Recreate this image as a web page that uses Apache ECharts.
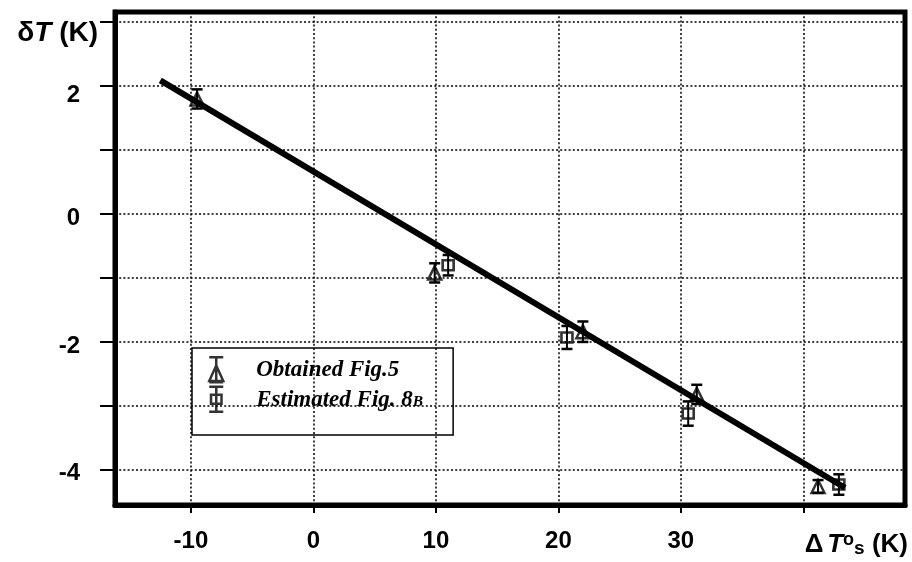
<!DOCTYPE html>
<html>
<head>
<meta charset="utf-8">
<script src="https://cdn.jsdelivr.net/npm/echarts@6/dist/echarts.min.js"></script>
<style>html,body{margin:0;padding:0;background:#fff}#c{width:912px;height:562px}</style>
</head>
<body>
<div id="c"></div>
<script>
// ---- data ----
const obtainedName = 'Obtained Fig.5';
const estimatedName = 'Estimated Fig. 8B';
const obtainedX = [-9.5, 9.9, 22.0, 31.3, 41.2];
const obtainedY = [1.80, -0.92, -1.84, -2.82, -4.26];
const obtainedErr = [0.15, 0.15, 0.16, 0.15, 0.10];
const estimatedX = [11.0, 20.7, 30.6, 42.9];
const estimatedY = [-0.80, -1.93, -3.12, -4.23];
const estimatedErr = [0.16, 0.18, 0.19, 0.16];
const fitX = [-12.5, 43.4];
const fitY = [2.09, -4.28];
const xTicks = [-10, 0, 10, 20, 30, 40];
const xLabels = [-10, 0, 10, 20, 30];
const yTicks = [-4, -3, -2, -1, 0, 1, 2, 3];
const yLabels = [-4, -2, 0, 2];

const SANS = 'Liberation Sans, Arial, Helvetica, sans-serif';
const SERIF = 'Liberation Serif, Times New Roman, serif';

function errSeries(name, xs, ys, es) {
  return {
    type: 'custom', name: name + ' err', silent: true, z: 3,
    data: xs.map((x, i) => [x, ys[i] - es[i], ys[i] + es[i]]),
    encode: { x: 0, y: [1, 2] },
    renderItem: function (params, api) {
      const lo = api.coord([api.value(0), api.value(1)]);
      const hi = api.coord([api.value(0), api.value(2)]);
      const w = 5.5;
      const st = { stroke: '#000', lineWidth: 2.5 };
      return { type: 'group', children: [
        { type: 'line', shape: { x1: lo[0], y1: lo[1], x2: hi[0], y2: hi[1] }, style: { stroke: '#000', lineWidth: 2 } },
        { type: 'line', shape: { x1: lo[0] - w, y1: lo[1], x2: lo[0] + w, y2: lo[1] }, style: st },
        { type: 'line', shape: { x1: hi[0] - w, y1: hi[1], x2: hi[0] + w, y2: hi[1] }, style: st }
      ]};
    }
  };
}

const chart = echarts.init(document.getElementById('c'), null, { renderer: 'canvas' });
const gridLine = { show: true, lineStyle: { color: '#000', width: 1.5, type: [2, 2.2] } };
const labelFont = { fontSize: 24, fontWeight: 'bold', fontFamily: SANS, color: '#000' };

chart.setOption({
  backgroundColor: '#fff',
  animation: false,
  grid: { left: 115, right: 7, top: 12, bottom: 57, show: true, borderColor: '#000', borderWidth: 5, outerBoundsMode: 'none' },
  xAxis: {
    type: 'value', min: -16.2, max: 48.3,
    axisLine: { show: true, onZero: false, lineStyle: { color: '#000', width: 5 } },
    axisTick: { show: true, customValues: xTicks, length: 8, lineStyle: { color: '#000', width: 2 } },
    axisLabel: { show: true, customValues: xLabels, margin: 24, color: '#000', fontSize: 24, fontWeight: 'bold', fontFamily: SANS },
    splitLine: gridLine,
    name: '{a|Δ}{g| }{b|T}{o|o}{s|s}{a| (K)}',
    nameLocation: 'end', nameGap: 3, nameMoveOverlap: false,
    nameTextStyle: {
      align: 'right', verticalAlign: 'top', padding: [23, 0, 0, 0],
      rich: {
        a: { fontSize: 26, fontWeight: 'bold', fontFamily: SANS, color: '#000', lineHeight: 30, verticalAlign: 'bottom' },
        g: { fontSize: 14, fontWeight: 'bold', fontFamily: SANS, color: '#000', lineHeight: 30, verticalAlign: 'bottom' },
        b: { fontSize: 26, fontWeight: 'bold', fontStyle: 'italic', fontFamily: SANS, color: '#000', lineHeight: 30, verticalAlign: 'bottom' },
        o: { fontSize: 18, fontWeight: 'bold', fontFamily: SANS, color: '#000', lineHeight: 30, verticalAlign: 'top', padding: [3, 0, 0, 0] },
        s: { fontSize: 19, fontWeight: 'bold', fontFamily: SANS, color: '#000', lineHeight: 30, verticalAlign: 'bottom' }
      }
    }
  },
  yAxis: {
    type: 'value', min: -4.55, max: 3.16,
    axisLine: { show: true, onZero: false, lineStyle: { color: '#000', width: 5 } },
    axisTick: { show: true, customValues: yTicks, length: 15, lineStyle: { color: '#000', width: 2 } },
    axisLabel: {
      show: true, customValues: yLabels, margin: 35,
      formatter: function (v) { return v === 2 ? '{h|2}' : '{n|' + v + '}'; },
      rich: {
        h: Object.assign({ padding: [18, 0, 0, 0] }, labelFont),
        n: Object.assign({ padding: [8, 0, 0, 0] }, labelFont)
      }
    },
    splitLine: gridLine,
    name: '{a|δ}{b|T}{a| (K)}',
    nameLocation: 'end', nameGap: -21, nameMoveOverlap: false,
    nameTextStyle: {
      align: 'right', verticalAlign: 'middle', padding: [0, 17, 0, 0],
      rich: {
        a: { fontSize: 28, fontWeight: 'bold', fontFamily: SANS, color: '#000' },
        b: { fontSize: 28, fontWeight: 'bold', fontStyle: 'italic', fontFamily: SANS, color: '#000' }
      }
    }
  },
  legend: {
    orient: 'vertical', left: 192, top: 348,
    padding: [8, 30, 22, 16], itemGap: 2,
    itemWidth: 14, itemHeight: 25, symbolKeepAspect: false,
    borderColor: '#000', borderWidth: 1.5, backgroundColor: 'transparent',
    selectedMode: false,
    data: [
      { name: obtainedName, icon: 'path://M1 0H13M7 0V21M1 21H13M1 20L7 7L13 20Z',
        itemStyle: { color: 'rgba(0,0,0,0)', borderColor: '#000', borderWidth: 2.5 } },
      { name: estimatedName, icon: 'path://M1 0H13M7 0V25M1 25H13M2.5 8H11.5V17H2.5Z',
        itemStyle: { color: 'rgba(0,0,0,0)', borderColor: '#000', borderWidth: 2.5 } }
    ],
    formatter: function (n) {
      return n === estimatedName ? '{n|Estimated Fig. 8}{s|B}' : '{n|' + n + '}';
    },
    textStyle: {
      padding: [0, 0, 0, 28],
      rich: {
        n: { fontSize: 23, fontWeight: 'bold', fontStyle: 'italic', fontFamily: SERIF, color: '#000', lineHeight: 24, verticalAlign: 'bottom' },
        s: { fontSize: 15.5, fontWeight: 'bold', fontStyle: 'italic', fontFamily: SERIF, color: '#000', lineHeight: 24, verticalAlign: 'bottom', padding: [0, 0, 1, 0] }
      }
    }
  },
  series: [
    { type: 'line', name: 'fit', data: fitX.map((x, i) => [x, fitY[i]]), showSymbol: false, silent: true,
      lineStyle: { color: '#000', width: 6 }, z: 2 },
    errSeries(obtainedName, obtainedX, obtainedY, obtainedErr),
    errSeries(estimatedName, estimatedX, estimatedY, estimatedErr),
    { type: 'scatter', name: obtainedName, data: obtainedX.map((x, i) => [x, obtainedY[i]]),
      symbol: 'triangle', symbolSize: [13, 13], z: 4,
      itemStyle: { color: 'rgba(0,0,0,0)', borderColor: '#000', borderWidth: 2.5 } },
    { type: 'scatter', name: estimatedName, data: estimatedX.map((x, i) => [x, estimatedY[i]]),
      symbol: 'rect', symbolSize: [11, 10], z: 4,
      itemStyle: { color: 'rgba(0,0,0,0)', borderColor: '#000', borderWidth: 2.5 } }
  ]
});
</script>
</body>
</html>
